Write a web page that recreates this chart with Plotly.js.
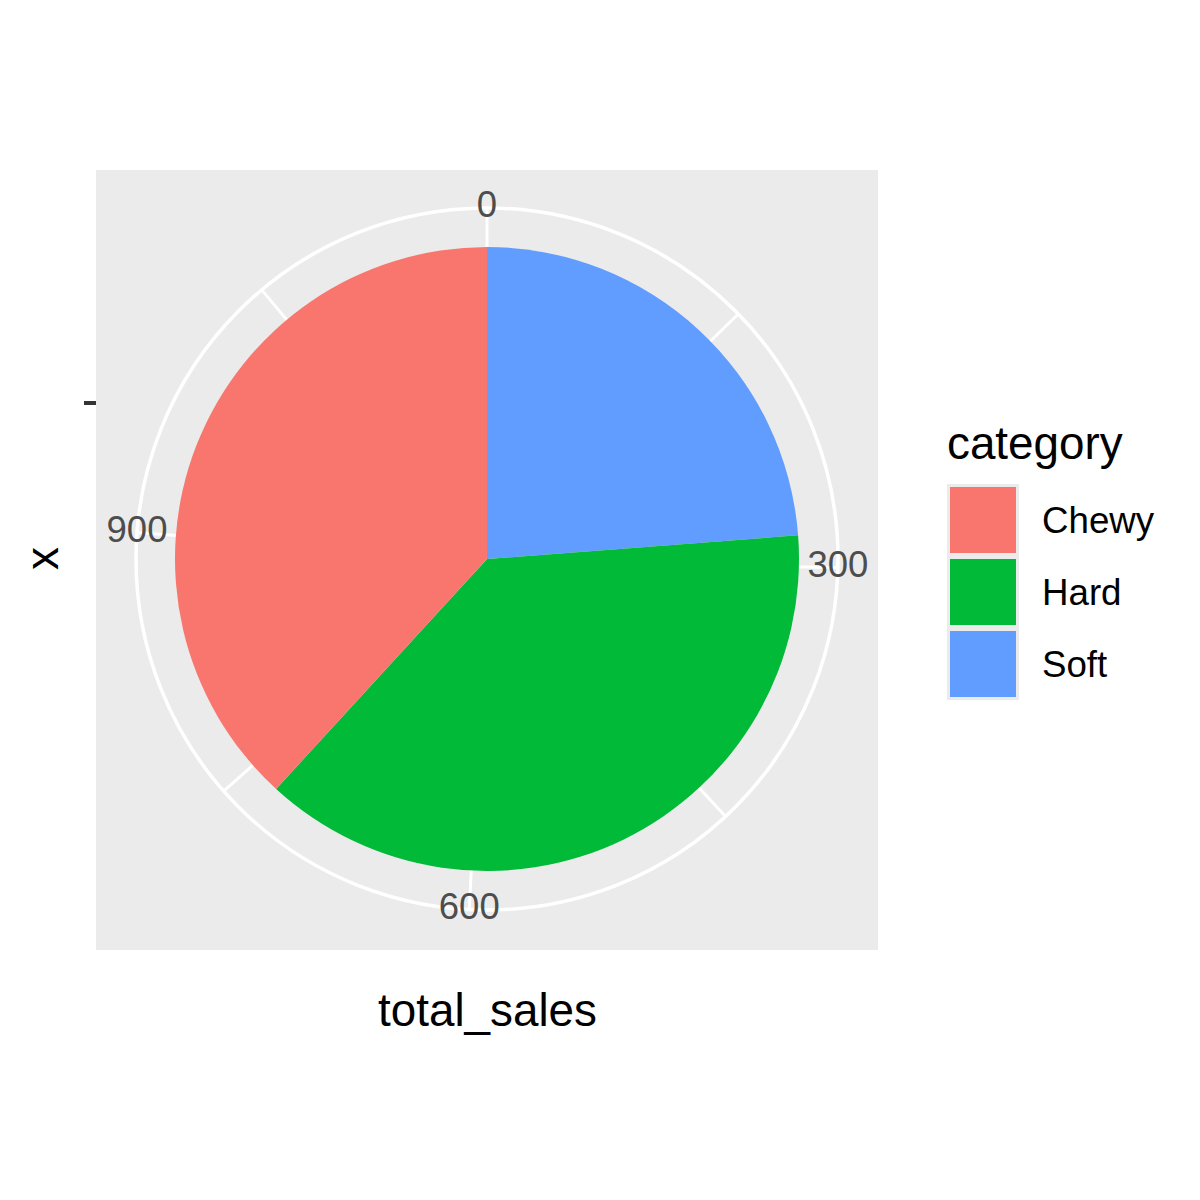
<!DOCTYPE html>
<html>
<head>
<meta charset="utf-8">
<script src="https://cdn.plot.ly/plotly-3.0.1.min.js"></script>
<style>html,body{margin:0;padding:0;background:#fff;} #chart{width:1200px;height:1200px;}</style>
</head>
<body>
<div id="chart"></div>
<script>
// ---- data ----
const categories = ['Chewy', 'Hard', 'Soft'];
const totalSales = [451, 449, 281];
const colors = ['#F8766D', '#00BA38', '#619CFF'];
const majorTicks = [0, 300, 600, 900];
const majorTickLabels = ['0', '300', '600', '900'];
const minorTicks = [150, 450, 750, 1050];
const xTitle = 'total_sales';
const yTitle = 'x';
const legendTitle = 'category';

// ---- build ----
const total = totalSales.reduce((a, b) => a + b, 0);
const toDeg = v => v / total * 360;
const FONT = 'Liberation Sans, Arial, sans-serif';

const traces = [];
// ggplot stacks last factor level first (starting at theta 0, clockwise)
let cum = 0;
for (let i = categories.length - 1; i >= 0; i--) {
  const v = totalSales[i];
  traces.push({
    type: 'barpolar',
    name: categories[i],
    r: [0.4],
    theta: [toDeg(cum + v / 2)],
    width: [toDeg(v)],
    marker: {color: colors[i], line: {width: 0}},
    hoverinfo: 'name'
  });
  cum += v;
}
// theta tick labels, placed on the outer ring like ggplot
traces.push({
  type: 'scatterpolar',
  mode: 'text',
  r: majorTicks.map(() => 0.45),
  theta: majorTicks.map(toDeg),
  text: majorTickLabels,
  textposition: 'middle center',
  textfont: {family: FONT, size: 36.5, color: '#4D4D4D'},
  cliponaxis: false,
  hoverinfo: 'skip',
  showlegend: false
});

const W = 1200, H = 1200;
const px = x => x / W, py = y => 1 - y / H;
const cx = 487, cy = 559, R = 351;

const shapes = [
  {type: 'rect', xref: 'paper', yref: 'paper', x0: px(96), x1: px(878), y0: py(950), y1: py(170),
   fillcolor: '#EBEBEB', line: {width: 0}, layer: 'below'},
  // y-axis tick mark for the single (empty) discrete x value
  {type: 'line', xref: 'paper', yref: 'paper', x0: px(84), x1: px(96), y0: py(403), y1: py(403),
   line: {color: '#333333', width: 4}, layer: 'above'},
  // legend key background
  {type: 'rect', xref: 'paper', yref: 'paper', x0: px(947), x1: px(1019), y0: py(700), y1: py(484),
   fillcolor: '#EBEBEB', line: {width: 0}, layer: 'above'}
];
const annotations = [
  {text: xTitle, xref: 'paper', yref: 'paper', x: px(487), y: py(1010), showarrow: false,
   xanchor: 'center', yanchor: 'middle', font: {family: FONT, size: 45.8, color: '#000'}},
  {text: yTitle, xref: 'paper', yref: 'paper', x: px(42), y: py(559), showarrow: false, textangle: -90,
   xanchor: 'center', yanchor: 'middle', font: {family: FONT, size: 45.8, color: '#000'}},
  {text: legendTitle, xref: 'paper', yref: 'paper', x: px(945), y: py(443), showarrow: false,
   xanchor: 'left', yanchor: 'middle', font: {family: FONT, size: 45.8, color: '#000'}}
];
categories.forEach((c, i) => {
  const top = 487 + i * 72;
  shapes.push({type: 'rect', xref: 'paper', yref: 'paper', x0: px(950), x1: px(1016), y0: py(top + 66), y1: py(top),
    fillcolor: colors[i], line: {width: 0}, layer: 'above'});
  annotations.push({text: c, xref: 'paper', yref: 'paper', x: px(1040), y: py(top + 33), showarrow: false,
    xanchor: 'left', yanchor: 'middle', font: {family: FONT, size: 36.7, color: '#000'}});
});

const layout = {
  width: W, height: H,
  margin: {l: 0, r: 0, t: 0, b: 0, pad: 0},
  paper_bgcolor: '#FFFFFF',
  showlegend: false,
  polar: {
    domain: {x: [px(cx - R), px(cx + R)], y: [py(cy + R), py(cy - R)]},
    bgcolor: 'rgba(0,0,0,0)',
    hole: 0,
    barmode: 'overlay',
    radialaxis: {visible: false, range: [0, 0.45]},
    angularaxis: {
      type: 'linear', thetaunit: 'degrees', rotation: 90, direction: 'clockwise',
      tickmode: 'array',
      tickvals: majorTicks.concat(minorTicks).map(toDeg),
      showticklabels: false, ticks: '',
      showgrid: true, gridcolor: '#FFFFFF', gridwidth: 3,
      showline: true, linecolor: '#FFFFFF', linewidth: 3.5,
      layer: 'below traces'
    }
  },
  shapes: shapes,
  annotations: annotations
};

Plotly.newPlot('chart', traces, layout, {displayModeBar: false, staticPlot: true});
</script>
</body>
</html>
